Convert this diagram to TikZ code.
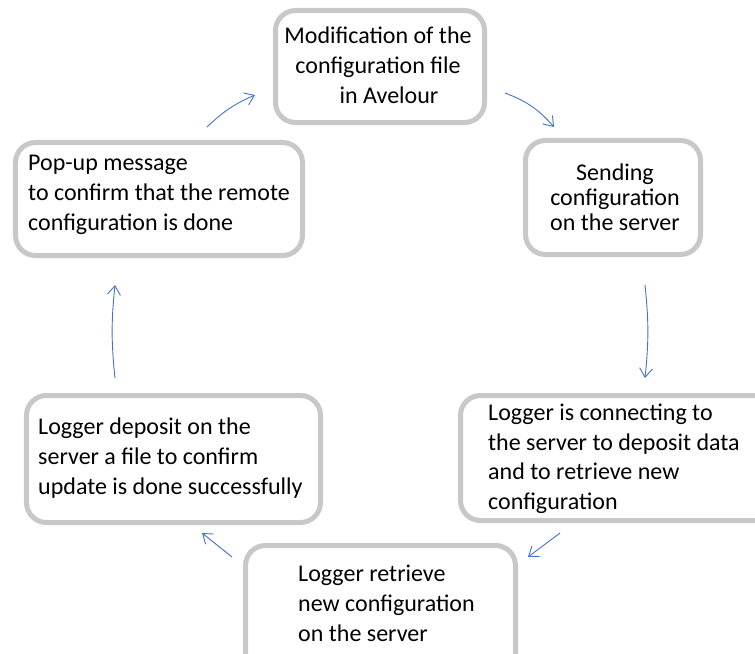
\documentclass[tikz,border=0pt]{standalone}
\usepackage{fontspec}
\setmainfont{Carlito}
\usetikzlibrary{arrows.meta}
\definecolor{boxgray}{HTML}{C8C8C8}
\definecolor{arrblue}{HTML}{4472C4}
\begin{document}
\begin{tikzpicture}[x=1bp,y=-1bp,
  stepbox/.style={draw=boxgray, line width=5bp, rounded corners=20bp, fill=white, inner sep=0pt},
  txt/.style={font=\fontsize{24bp}{30bp}\selectfont, inner sep=0pt, text=black},
  flow/.style={draw=arrblue, line width=0.9bp, -{Straight Barb[length=9bp,width=13bp]}}]
\useasboundingbox (0,0) rectangle (755,654);
\clip (0,0) rectangle (755,654);
\fill[white] (0,0) rectangle (755,654);
% boxes
\node[stepbox, minimum width=209bp, minimum height=112bp] (b1) at (380,66.5) {};
\node[stepbox, minimum width=175bp, minimum height=114bp] (b2) at (613,197.5) {};
\node[stepbox, minimum width=337bp, minimum height=125bp] (b3) at (629,458) {};
\node[stepbox, minimum width=270bp, minimum height=132bp] (b4) at (380.5,611.5) {};
\node[stepbox, minimum width=294bp, minimum height=127bp] (b5) at (173.5,459) {};
\node[stepbox, minimum width=287bp, minimum height=113bp] (b6) at (159,199) {};
% texts
\node[txt, align=center] (t1) at (378,65) {Modification of the\\configuration file\\\hspace*{22bp}in Avelour};
\node[txt, align=center, font=\fontsize{24bp}{25bp}\selectfont] (t2) at (615,197) {Sending\\configuration\\on the server};
\node[txt, align=left, anchor=west, font=\fontsize{24bp}{29.5bp}\selectfont] (t3) at (488,459) {Logger is connecting to\\the server to deposit data\\and to retrieve new\\configuration};
\node[txt, align=left, anchor=west] (t4) at (298,603) {Logger retrieve\\new configuration\\on the server};
\node[txt, align=left, anchor=west] (t5) at (38,458) {Logger deposit on the\\server a file to confirm\\update is done successfully};
\node[txt, align=left, anchor=west] (t6) at (28,195) {Pop-up message\\to confirm that the remote\\configuration is done};
% arrow end points
\coordinate (a1s) at (207,127); \coordinate (a1e) at (255,95);
\coordinate (a2s) at (505,93);  \coordinate (a2e) at (554,127);
\coordinate (a3s) at (645,285); \coordinate (a3e) at (645,378);
\coordinate (a4s) at (560,533); \coordinate (a4e) at (528,557);
\coordinate (a5s) at (232,557); \coordinate (a5e) at (202,533);
\coordinate (a6s) at (115,378); \coordinate (a6e) at (115,285);
\draw[flow] (a1s) to[bend left=10] (a1e);
\draw[flow] (a2s) to[bend left=14] (a2e);
\draw[flow] (a3s) to[bend left=6] (a3e);
\draw[flow] (a4s) -- (a4e);
\draw[flow] (a5s) -- (a5e);
\draw[flow] (a6s) to[bend left=6] (a6e);
\end{tikzpicture}
\end{document}
